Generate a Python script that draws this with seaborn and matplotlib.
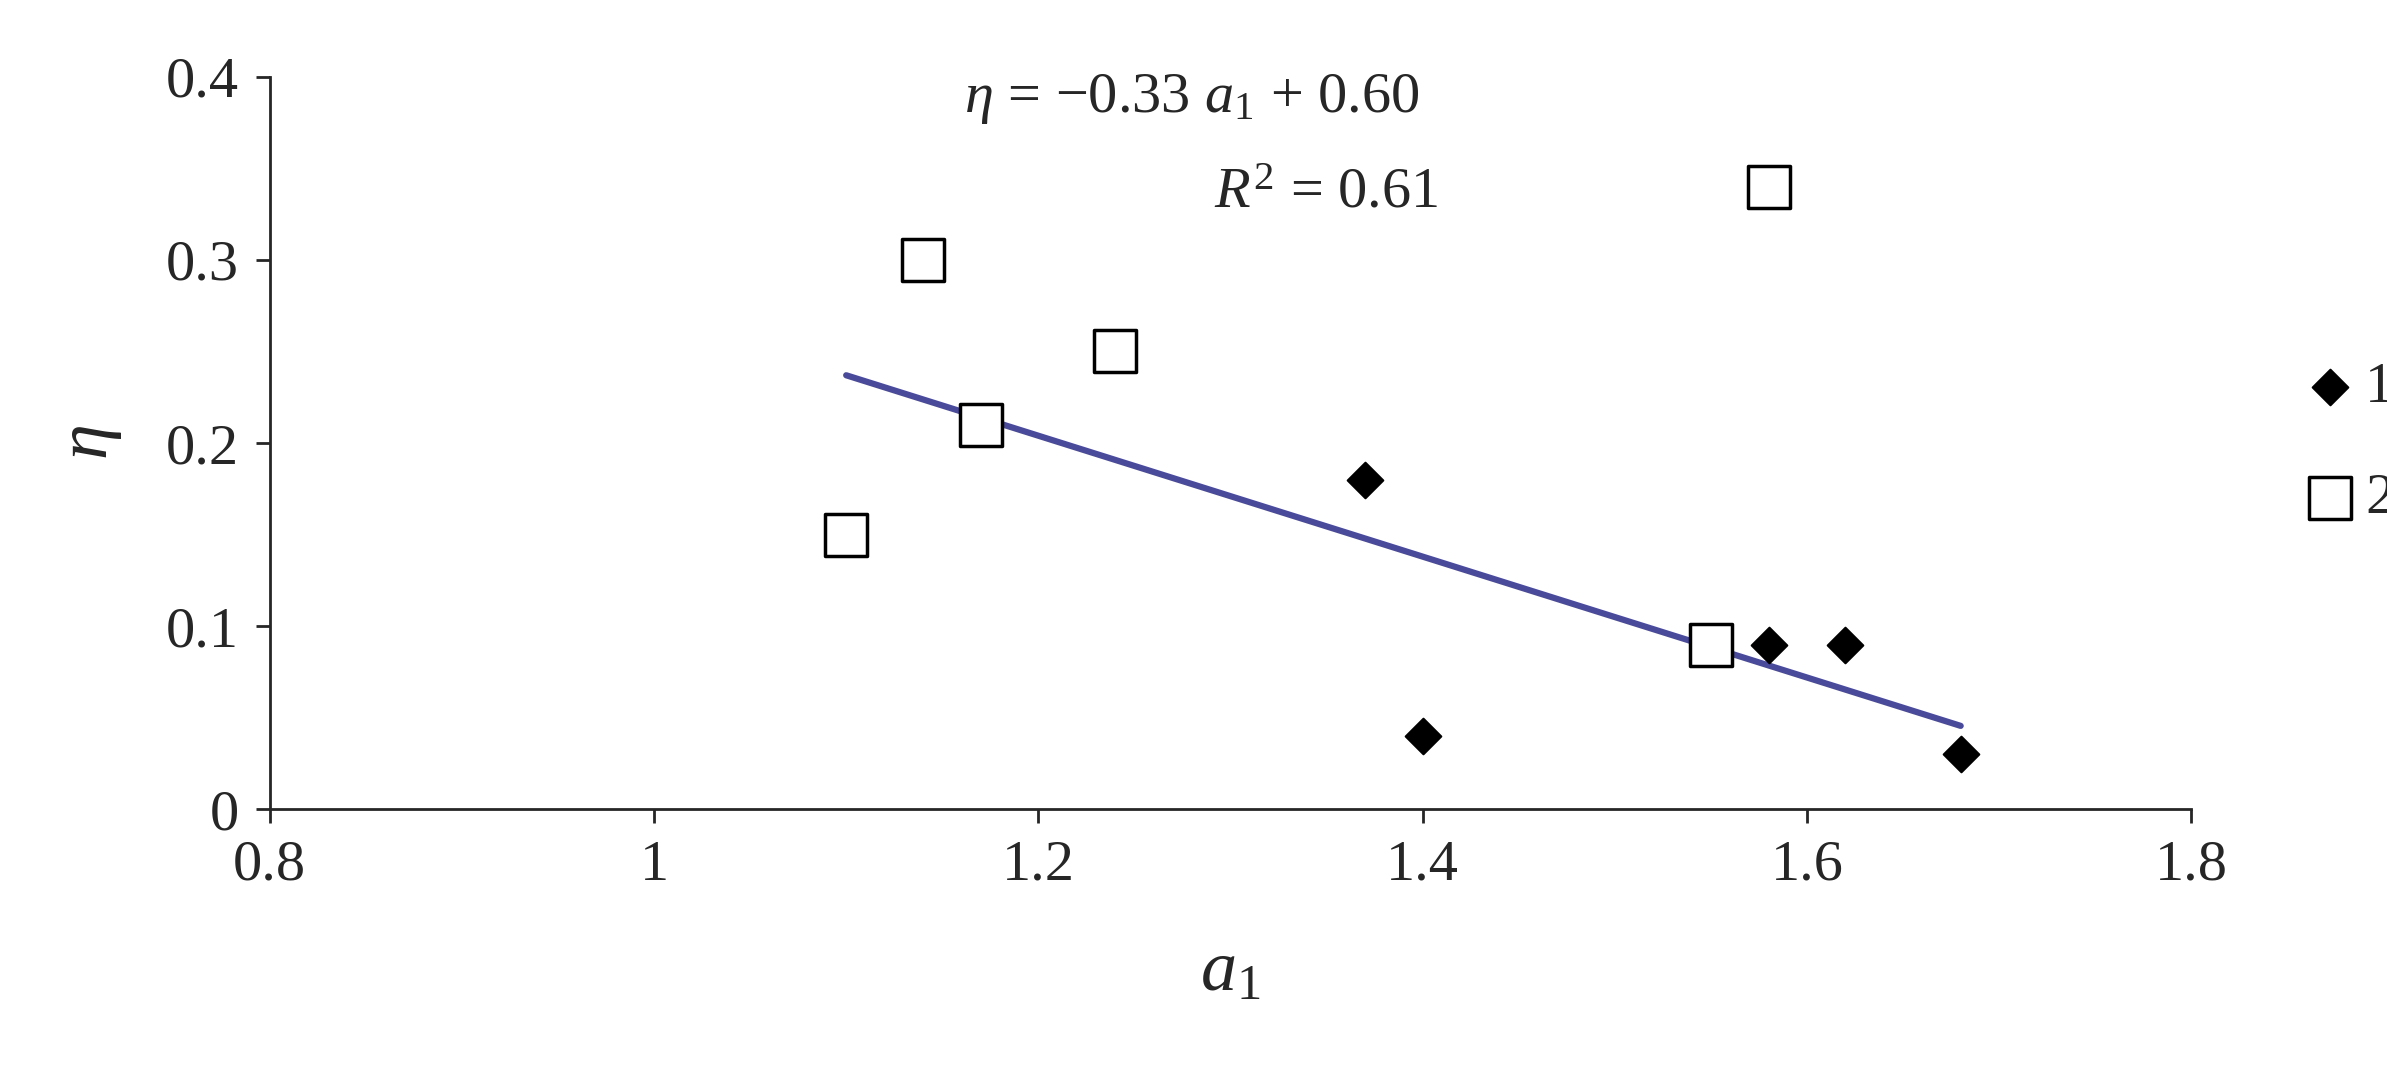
import matplotlib
matplotlib.use("Agg")
import matplotlib.pyplot as plt
import seaborn as sns
import pandas as pd
import numpy as np

s1_x = [1.37, 1.40, 1.58, 1.62, 1.68]
s1_y = [0.18, 0.04, 0.09, 0.09, 0.03]
s2_x = [1.10, 1.14, 1.17, 1.24, 1.55, 1.58]
s2_y = [0.15, 0.30, 0.21, 0.25, 0.09, 0.34]
fit_slope, fit_icpt = -0.33, 0.60
fit_range = [1.10, 1.68]
xticks = [0.8, 1.0, 1.2, 1.4, 1.6, 1.8]
xlabels = ["0.8", "1", "1.2", "1.4", "1.6", "1.8"]
yticks = [0, 0.1, 0.2, 0.3, 0.4]
ylabels = ["0", "0.1", "0.2", "0.3", "0.4"]

sns.set_style("ticks")
plt.rcParams['font.family'] = ['Liberation Serif', 'DejaVu Serif']
plt.rcParams['mathtext.fontset'] = 'custom'
plt.rcParams['mathtext.rm'] = 'Liberation Serif'
plt.rcParams['mathtext.it'] = 'Liberation Serif:italic'

fig = plt.figure(figsize=(23.87, 10.65), dpi=100)
ax = fig.add_axes([0.113, 0.24, 0.805, 0.688])

df1 = pd.DataFrame({"x": s1_x, "y": s1_y})
df2 = pd.DataFrame({"x": s2_x, "y": s2_y})
fx = np.array(fit_range)
sns.lineplot(x=fx, y=fit_slope * fx + fit_icpt, ax=ax, color="#4a4a9a", lw=4.5, zorder=1)
sns.scatterplot(data=df1, x="x", y="y", ax=ax, marker="D", s=330, color="black",
                edgecolor="black", label="1", zorder=3)
sns.scatterplot(data=df2, x="x", y="y", ax=ax, marker="s", s=900, facecolor="white",
                edgecolor="black", linewidth=2.5, label="2", zorder=2)

ax.set_xlim(0.8, 1.8)
ax.set_ylim(0, 0.4)
ax.set_xticks(xticks, xlabels)
ax.set_yticks(yticks, ylabels)
sns.despine(ax=ax)
for sp in ax.spines.values():
    sp.set_linewidth(2)
ax.tick_params(labelsize=42, width=2, length=10, direction="out", pad=12)
ax.set_xlabel(r"$a_1$", fontsize=52, labelpad=35)
ax.set_ylabel(r"$\eta$", fontsize=52, labelpad=30)
ax.text(0.48, 0.97, r"$\eta$ = −0.33 $a_1$ + 0.60", transform=ax.transAxes,
        ha="center", va="center", fontsize=42)
ax.text(0.55, 0.84, r"$R^2$ = 0.61", transform=ax.transAxes,
        ha="center", va="center", fontsize=42)
leg = ax.legend(loc="center left", bbox_to_anchor=(1.045, 0.5), frameon=False,
                fontsize=42, handletextpad=0.1, handlelength=1.0, labelspacing=1.0,
                borderaxespad=0)
fig.savefig("out.png", dpi=100)
